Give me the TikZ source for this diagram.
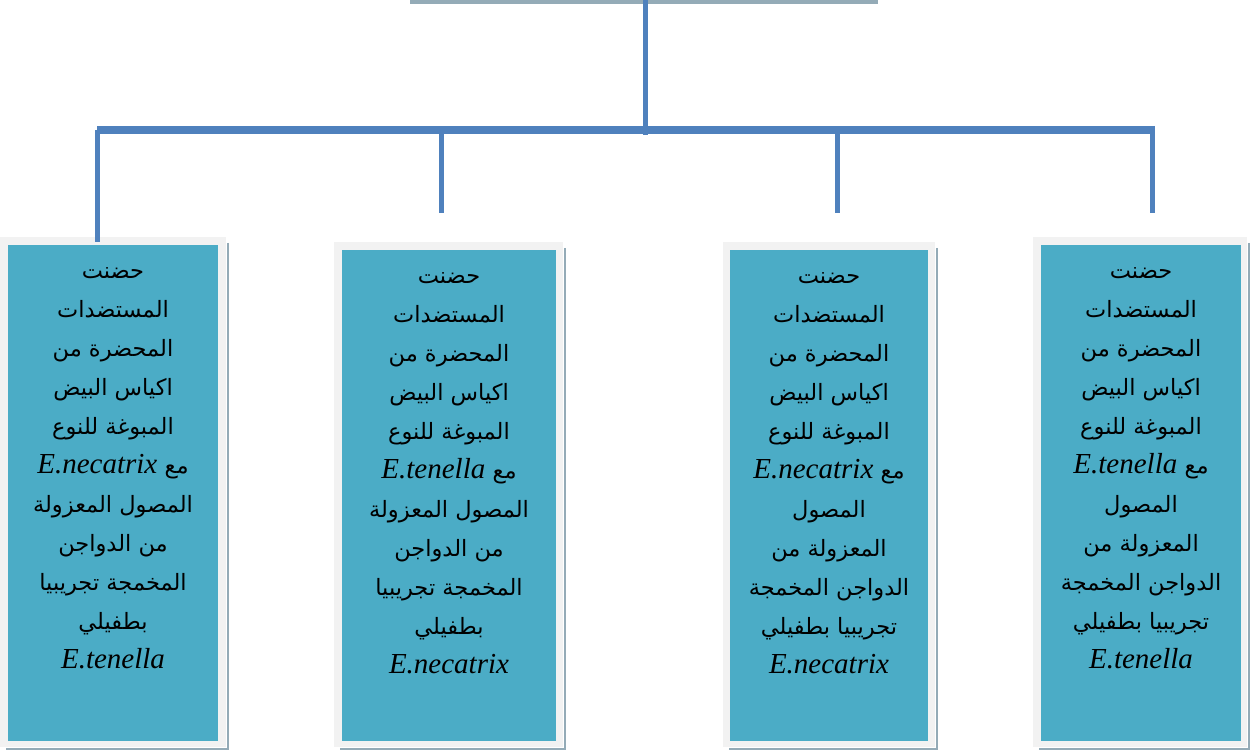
\documentclass[tikz,border=0pt]{standalone}
\usepackage{fontspec}
\setmainfont{Liberation Serif}
\newfontfamily\arabicfont[Script=Arabic]{DejaVu Sans}
\TeXXeTstate=1
\newcommand{\artxt}[1]{{\arabicfont\fontsize{22.5}{39}\selectfont\beginR #1\endR}}
\newcommand{\spn}[1]{\textit{#1}}
\definecolor{linkblue}{HTML}{4F81BD}
\definecolor{tealfill}{HTML}{4BACC6}
\definecolor{framegray}{HTML}{F2F2F2}
\definecolor{shadowc}{HTML}{94ABB7}
\begin{document}
\begin{tikzpicture}[x=1pt,y=-1pt,
  link/.style={draw=linkblue, line width=5pt},
  frame/.style={fill=framegray},
  tealbox/.style={fill=tealfill, draw=none, anchor=north west, inner sep=0pt},
  shade/.style={draw=shadowc, line width=2pt},
  txt/.style={anchor=north, align=center, inner sep=0pt, font=\fontsize{29}{39}\selectfont, text=black}
]
\useasboundingbox (0,0) rectangle (1250,751);
% root box bottom edge
\draw[draw=shadowc, line width=4pt] (410,2) -- (878,2);
% boxes
\path[frame] (0,237) rectangle (226,747);
\node[tealbox, minimum width=210pt, minimum height=496pt] (b1) at (8,245) {};
\draw[shade] (228,243) -- (228,749) -- (6,749);
\path[frame] (334,242) rectangle (563,747);
\node[tealbox, minimum width=214pt, minimum height=491pt] (b2) at (342,250) {};
\draw[shade] (565,248) -- (565,749) -- (340,749);
\path[frame] (723,242) rectangle (935,747);
\node[tealbox, minimum width=198pt, minimum height=491pt] (b3) at (730,250) {};
\draw[shade] (937,248) -- (937,749) -- (729,749);
\path[frame] (1033,237) rectangle (1247,747);
\node[tealbox, minimum width=200pt, minimum height=496pt] (b4) at (1041,245) {};
\draw[shade] (1249,243) -- (1249,749) -- (1039,749);
% connectors
\coordinate (top) at (645,0);
\coordinate (hub) at (645,135);
\coordinate (hl) at (97,130);
\coordinate (hr) at (1153,130);
\coordinate (d1) at (97,242);
\coordinate (d2) at (441,213);
\coordinate (d3) at (837,213);
\coordinate (d4) at (1152,213);
\draw[link] (top) -- (hub);
\draw[link, line width=8pt] (hl) -- (hr);
\draw[link] (97,130) -- (d1);
\draw[link] (441,130) -- (d2);
\draw[link] (837,130) -- (d3);
\draw[link] (1152,126) -- (d4);
% texts
\node[txt] (t1) at (113,267) {\artxt{حضنت}\\ \artxt{المستضدات}\\ \artxt{المحضرة من}\\ \artxt{اكياس البيض}\\ \artxt{المبوغة للنوع}\\ \spn{E.necatrix} \artxt{مع}\\ \artxt{المصول المعزولة}\\ \artxt{من الدواجن}\\ \artxt{المخمجة تجريبيا}\\ \artxt{بطفيلي}\\ \spn{E.tenella}};
\node[txt] (t2) at (449,272) {\artxt{حضنت}\\ \artxt{المستضدات}\\ \artxt{المحضرة من}\\ \artxt{اكياس البيض}\\ \artxt{المبوغة للنوع}\\ \spn{E.tenella} \artxt{مع}\\ \artxt{المصول المعزولة}\\ \artxt{من الدواجن}\\ \artxt{المخمجة تجريبيا}\\ \artxt{بطفيلي}\\ \spn{E.necatrix}};
\node[txt] (t3) at (829,272) {\artxt{حضنت}\\ \artxt{المستضدات}\\ \artxt{المحضرة من}\\ \artxt{اكياس البيض}\\ \artxt{المبوغة للنوع}\\ \spn{E.necatrix} \artxt{مع}\\ \artxt{المصول}\\ \artxt{المعزولة من}\\ \artxt{الدواجن المخمجة}\\ \artxt{تجريبيا بطفيلي}\\ \spn{E.necatrix}};
\node[txt] (t4) at (1141,267) {\artxt{حضنت}\\ \artxt{المستضدات}\\ \artxt{المحضرة من}\\ \artxt{اكياس البيض}\\ \artxt{المبوغة للنوع}\\ \spn{E.tenella} \artxt{مع}\\ \artxt{المصول}\\ \artxt{المعزولة من}\\ \artxt{الدواجن المخمجة}\\ \artxt{تجريبيا بطفيلي}\\ \spn{E.tenella}};
\end{tikzpicture}
\end{document}
